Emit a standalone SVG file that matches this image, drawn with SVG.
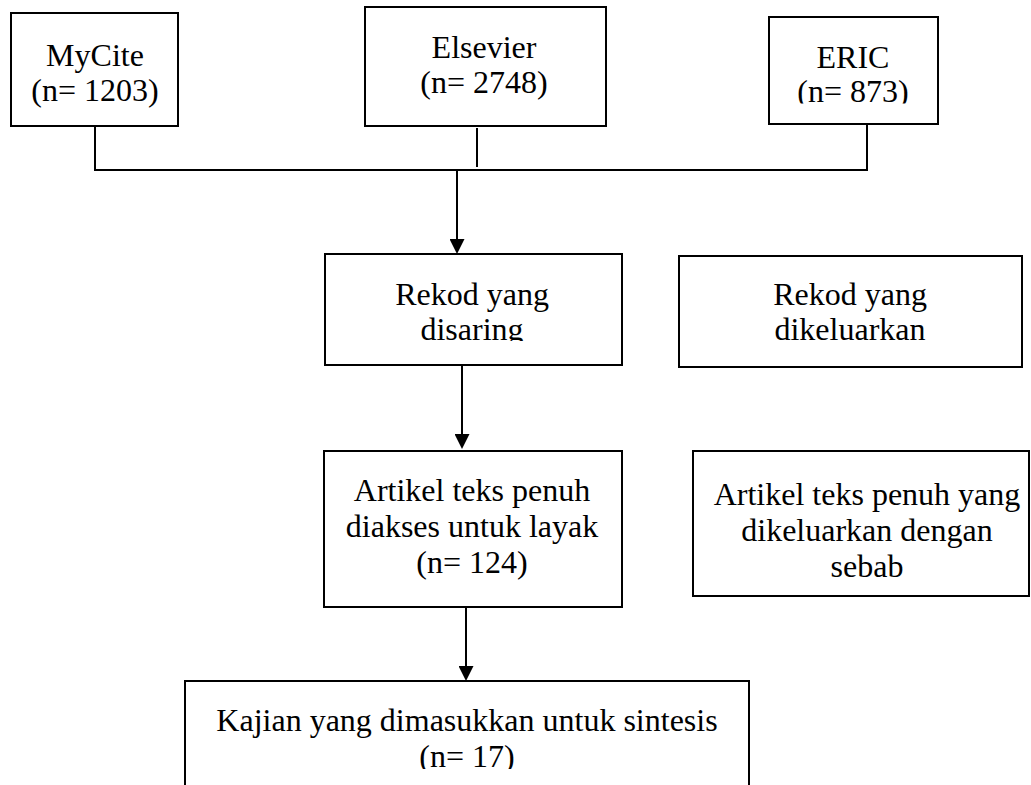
<svg xmlns="http://www.w3.org/2000/svg" width="1031" height="785" viewBox="0 0 1031 785">
<style>
  .box { fill: #ffffff; stroke: #000000; stroke-width: 2; }
  .lbl { font-family: "Liberation Serif", "Times New Roman", serif; font-size: 32px; fill: #000000; text-anchor: middle; }
  .conn { fill: none; stroke: #000000; stroke-width: 2; }
</style>
<defs>
  <marker id="arrow" markerUnits="userSpaceOnUse" markerWidth="15" markerHeight="15" viewBox="0 0 15 15" refX="13" refY="7.5" orient="auto">
    <path d="M0,0 L15,7.5 L0,15 Z" fill="#000000"/>
  </marker>
  <clipPath id="clipEric"><rect x="769" y="17" width="169" height="86.5"/></clipPath>
  <clipPath id="clipDisaring"><rect x="325" y="254" width="297" height="87"/></clipPath>
  <clipPath id="clipKajian"><rect x="185" y="681" width="564" height="88"/></clipPath>
</defs>
<rect width="1031" height="785" fill="#ffffff"/>

<g id="connectors">
  <polyline class="conn" points="95,126 95,170 867,170 867,124"/>
  <line class="conn" x1="477" y1="128" x2="477" y2="167"/>
  <line class="conn" x1="457" y1="170" x2="457" y2="252" marker-end="url(#arrow)"/>
  <line class="conn" x1="462" y1="365" x2="462" y2="447" marker-end="url(#arrow)"/>
  <line class="conn" x1="466" y1="607" x2="466" y2="679" marker-end="url(#arrow)"/>
</g>

<g id="mycite">
  <rect class="box" x="11" y="13" width="167" height="113"/>
  <text class="lbl" x="95" y="66">MyCite</text>
  <text class="lbl" x="95" y="101">(n= 1203)</text>
</g>

<g id="elsevier">
  <rect class="box" x="365" y="7" width="241" height="119"/>
  <text class="lbl" x="484" y="58">Elsevier</text>
  <text class="lbl" x="484" y="93">(n= 2748)</text>
</g>

<g id="eric">
  <rect class="box" x="769" y="17" width="169" height="107"/>
  <g clip-path="url(#clipEric)">
    <text class="lbl" x="853" y="68">ERIC</text>
    <text class="lbl" x="853" y="102">(n= 873)</text>
  </g>
</g>

<g id="disaring">
  <rect class="box" x="325" y="254" width="297" height="111"/>
  <g clip-path="url(#clipDisaring)">
    <text class="lbl" x="472" y="305">Rekod yang</text>
    <text class="lbl" x="472" y="340">disaring</text>
  </g>
</g>

<g id="dikeluarkan">
  <rect class="box" x="679" y="256" width="343" height="111"/>
  <text class="lbl" x="850" y="305">Rekod yang</text>
  <text class="lbl" x="850" y="340">dikeluarkan</text>
</g>

<g id="artikel">
  <rect class="box" x="324" y="451" width="298" height="156"/>
  <text class="lbl" x="472" y="501">Artikel teks penuh</text>
  <text class="lbl" x="472" y="537">diakses untuk layak</text>
  <text class="lbl" x="472" y="573">(n= 124)</text>
</g>

<g id="artikel-dikeluarkan">
  <rect class="box" x="693" y="451" width="336" height="145"/>
  <text class="lbl" x="867" y="505">Artikel teks penuh yang</text>
  <text class="lbl" x="867" y="541">dikeluarkan dengan</text>
  <text class="lbl" x="867" y="577">sebab</text>
</g>

<g id="kajian">
  <polyline class="box" points="185,790 185,681 749,681 749,790"/>
  <g clip-path="url(#clipKajian)">
    <text class="lbl" x="467" y="731">Kajian yang dimasukkan untuk sintesis</text>
    <text class="lbl" x="467" y="767">(n= 17)</text>
  </g>
</g>
</svg>
